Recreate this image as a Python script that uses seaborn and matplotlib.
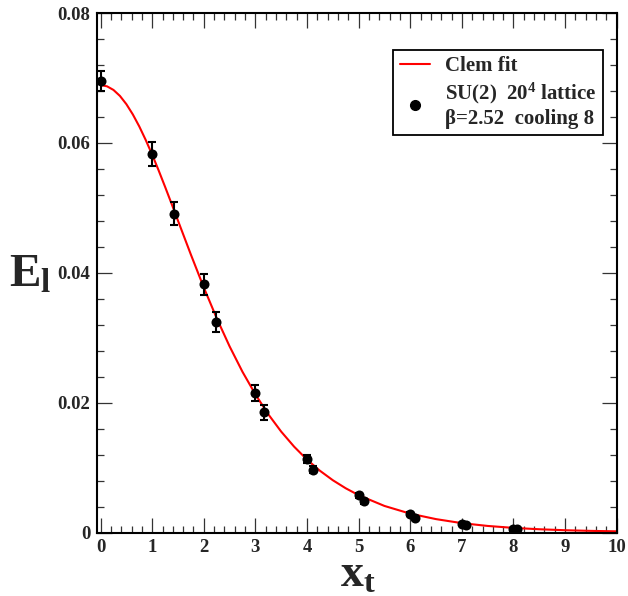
import numpy as np
import pandas as pd
import seaborn as sns
import matplotlib
matplotlib.use("Agg")
import matplotlib.pyplot as plt
from matplotlib.lines import Line2D
from matplotlib.ticker import MultipleLocator, FixedLocator

# ---- data ----
x_pts = [0.0, 1.0, 1.414, 2.0, 2.236, 3.0, 3.162, 4.0, 4.123, 5.0, 5.099,
         6.0, 6.083, 7.0, 7.071, 8.0, 8.062]
y_pts = [0.0695, 0.0583, 0.0491, 0.0382, 0.0324, 0.0215, 0.0185, 0.0113, 0.0097,
         0.0057, 0.0048, 0.0028, 0.0023, 0.0013, 0.0012, 0.0005, 0.0005]
y_err = [0.0015, 0.0018, 0.0018, 0.0016, 0.0016, 0.0012, 0.0012, 0.0006, 0.0006,
         0.0004, 0.0004, 0.0003, 0.0003, 0.0002, 0.0002, 0.0002, 0.0002]

fit_x = [0.0, 0.125, 0.25, 0.375, 0.5, 0.625, 0.75, 0.875, 1.0, 1.125, 1.25,
         1.375, 1.5, 1.75, 2.0, 2.25, 2.5, 2.75, 3.0, 3.25, 3.5, 3.75, 4.0,
         4.25, 4.5, 4.75, 5.0, 5.5, 6.0, 6.5, 7.0, 7.5, 8.0, 8.5, 9.0, 9.5, 10.0]
fit_y = [0.06890, 0.06871, 0.06815, 0.06723, 0.06596, 0.06438, 0.06253, 0.06044,
         0.05818, 0.05576, 0.05323, 0.05064, 0.04802, 0.04279, 0.03773, 0.03300,
         0.02866, 0.02474, 0.02127, 0.01820, 0.01553, 0.01322, 0.01122, 0.00951,
         0.00805, 0.00681, 0.00575, 0.00409, 0.00290, 0.00206, 0.00144, 0.00101,
         0.00071, 0.00050, 0.00035, 0.00025, 0.00018]

x_ticks = [0, 1, 2, 3, 4, 5, 6, 7, 8, 9, 10]
y_ticks = [0.0, 0.02, 0.04, 0.06, 0.08]
y_tick_labels = ["0", "0.02", "0.04", "0.06", "0.08"]

fit_label = "Clem fit"
data_label = "SU(2)  20$^{\\mathbf{4}}$ lattice\n\u03b2=2.52  cooling 8"

# ---- style ----
sns.set_style("white")
plt.rcParams["font.family"] = ["Liberation Serif", "DejaVu Serif"]
plt.rcParams["font.weight"] = "bold"
plt.rcParams["mathtext.fontset"] = "custom"
plt.rcParams["mathtext.rm"] = "Liberation Serif:bold"
plt.rcParams["mathtext.bf"] = "Liberation Serif:bold"
plt.rcParams["mathtext.it"] = "Liberation Serif:bold"

fig = plt.figure(figsize=(6.28, 5.96), dpi=100)
ax = fig.add_axes([96.7 / 628, 1 - 532.5 / 596, 520 / 628, 519.5 / 596])

fit_df = pd.DataFrame({"x": fit_x, "y": fit_y})
pts_df = pd.DataFrame({"x": x_pts, "y": y_pts, "err": y_err})

sns.lineplot(data=fit_df, x="x", y="y", ax=ax, color="#ff0000", lw=1.5,
             sort=True, legend=False, zorder=2)
ax.errorbar(pts_df["x"], pts_df["y"], yerr=pts_df["err"], fmt="none",
            ecolor="black", elinewidth=1.5, capsize=3.2, capthick=1.5, zorder=3)
sns.scatterplot(data=pts_df, x="x", y="y", ax=ax, color="black", s=52,
                edgecolor="black", linewidth=0, legend=False, zorder=4)

ax.set_xlim(-0.075, 10.0)
ax.set_ylim(0.0, 0.08)

ax.xaxis.set_major_locator(FixedLocator(x_ticks))
ax.xaxis.set_minor_locator(MultipleLocator(0.2))
ax.yaxis.set_major_locator(FixedLocator(y_ticks))
ax.yaxis.set_minor_locator(MultipleLocator(0.004))
ax.set_xticklabels([str(t) for t in x_ticks], fontweight="bold", fontsize=13.5,
                   family="Liberation Serif")
ax.set_yticklabels(y_tick_labels, fontweight="bold", fontsize=13.5,
                   family="Liberation Serif")

ax.tick_params(which="both", direction="in", top=True, right=True,
               bottom=True, left=True, color="#333333")
ax.tick_params(which="major", length=10.5, width=0.9, pad=4.5)
ax.tick_params(which="minor", length=5.2, width=0.9)

for sp in ax.spines.values():
    sp.set_visible(True)
    sp.set_color("black")
    sp.set_linewidth(1.5)

ax.set_xlabel("")
ax.set_ylabel("")
fig.text(30 / 628, 1 - 276 / 596, r"$\mathbf{E}_{\mathbf{l}}$", fontsize=34,
         ha="center", va="center")
fig.text(358 / 628, 1 - 576 / 596, r"$\mathbf{x}_{\mathbf{t}}$", fontsize=33,
         ha="center", va="center")

handles = [Line2D([], [], color="#ff0000", lw=1.5),
           Line2D([], [], color="black", marker="o", ls="none", markersize=7)]
leg = ax.legend(handles, [fit_label, data_label], loc="upper right",
                bbox_to_anchor=(0.974, 0.929), borderaxespad=0,
                frameon=True, fancybox=False, edgecolor="black",
                prop={"family": "Liberation Serif", "weight": "bold", "size": 15},
                handlelength=1.45, handletextpad=0.75, labelspacing=0.22,
                borderpad=0.3)
leg.get_frame().set_linewidth(1.3)
leg.get_frame().set_alpha(1)

fig.savefig("out.png", dpi=100)
